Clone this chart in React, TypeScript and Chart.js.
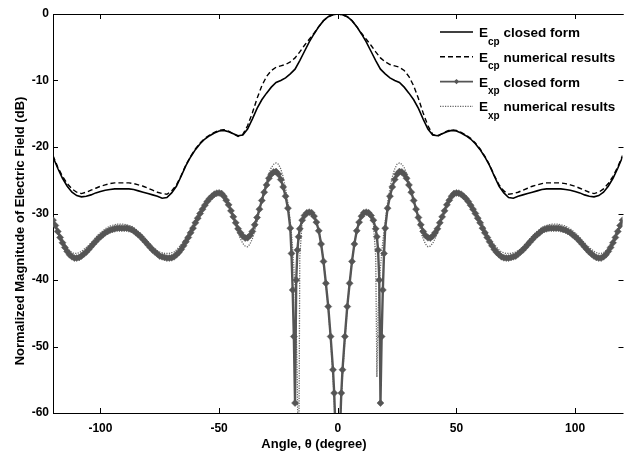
import React, { useEffect, useRef } from "react";
import { Chart, registerables } from "chart.js";

Chart.register(...registerables);

const FONT = '"Liberation Sans", Arial, Helvetica, sans-serif';

const X_TICKS = [-100, -50, 0, 50, 100];
const Y_TICKS = [0, -10, -20, -30, -40, -50, -60];
const X_TITLE = "Angle, θ (degree)";
const Y_TITLE = "Normalized Magnitude of Electric Field (dB)";

const LEGEND_SUBS = ["cp", "cp", "xp", "xp"];
const LEGEND_TEXTS = ["closed form", "numerical results", "closed form", "numerical results"];

// E_cp angles (degrees)
const ECP_ANGLES = [
  -120, -118, -116, -114, -112, -110, -108, -106, -104, -102,
  -100, -98, -96, -94, -92, -90, -88, -86, -84, -82,
  -80, -78, -76, -74, -72, -70, -68, -66, -64, -62,
  -60, -58, -56, -54, -52, -50, -48, -46, -44, -42,
  -40, -38, -36, -34, -32, -30, -28, -26, -24, -22,
  -20, -18, -16, -14, -12, -10, -8, -6, -4, -2,
  0,
  2, 4, 6, 8, 10, 12, 14, 16, 18, 20,
  22, 24, 26, 28, 30, 32, 34, 36, 38, 40,
  42, 44, 46, 48, 50, 52, 54, 56, 58, 60,
  62, 64, 66, 68, 70, 72, 74, 76, 78, 80,
  82, 84, 86, 88, 90, 92, 94, 96, 98, 100,
  102, 104, 106, 108, 110, 112, 114, 116, 118, 120,
];

const ECP_CLOSED = [
  -21.5, -23.2, -24.7, -25.9, -26.8, -27.3, -27.5, -27.4, -27.2, -26.9,
  -26.7, -26.5, -26.4, -26.3, -26.3, -26.3, -26.3, -26.4, -26.6, -26.8,
  -27.0, -27.2, -27.4, -27.7, -27.6, -26.9, -25.9, -24.4, -22.8, -21.5,
  -20.4, -19.5, -18.8, -18.3, -17.9, -17.6, -17.5, -17.7, -18.0, -18.3,
  -18.2, -17.3, -15.8, -14.2, -12.9, -11.9, -11.0, -10.3, -10.0, -9.6,
  -9.0, -8.3, -7.0, -5.6, -4.2, -3.0, -1.9, -1.0, -0.4, -0.1,
  0,
  -0.1, -0.4, -1.0, -1.9, -3.0, -4.2, -5.6, -7.0, -8.3, -9.0,
  -9.6, -10.0, -10.3, -11.0, -11.9, -12.9, -14.2, -15.8, -17.3, -18.2,
  -18.3, -18.0, -17.7, -17.5, -17.6, -17.9, -18.3, -18.8, -19.5, -20.4,
  -21.5, -22.8, -24.4, -25.9, -26.9, -27.6, -27.7, -27.4, -27.2, -27.0,
  -26.8, -26.6, -26.4, -26.3, -26.3, -26.3, -26.3, -26.4, -26.5, -26.7,
  -26.9, -27.2, -27.4, -27.5, -27.3, -26.8, -25.9, -24.7, -23.2, -21.5,
];

const ECP_NUMERICAL = [
  -21.3, -23.0, -24.4, -25.5, -26.3, -26.8, -27.0, -26.8, -26.5, -26.2,
  -25.9, -25.7, -25.5, -25.4, -25.4, -25.4, -25.4, -25.5, -25.7, -25.9,
  -26.2, -26.5, -26.8, -27.0, -27.1, -26.6, -25.7, -24.3, -22.7, -21.4,
  -20.3, -19.4, -18.7, -18.2, -17.8, -17.5, -17.4, -17.6, -18.0, -18.4,
  -18.1, -16.8, -14.9, -12.7, -10.8, -9.4, -8.5, -8.0, -7.8, -7.6,
  -7.2, -6.6, -5.7, -4.7, -3.8, -2.9, -1.9, -1.0, -0.4, -0.1,
  0,
  -0.1, -0.4, -1.0, -1.9, -2.9, -3.8, -4.7, -5.7, -6.6, -7.2,
  -7.6, -7.8, -8.0, -8.5, -9.4, -10.8, -12.7, -14.9, -16.8, -18.1,
  -18.4, -18.0, -17.6, -17.4, -17.5, -17.8, -18.2, -18.7, -19.4, -20.3,
  -21.4, -22.7, -24.3, -25.7, -26.6, -27.1, -27.0, -26.8, -26.5, -26.2,
  -25.9, -25.7, -25.5, -25.4, -25.4, -25.4, -25.4, -25.5, -25.7, -25.9,
  -26.2, -26.5, -26.8, -27.0, -26.8, -26.3, -25.5, -24.4, -23.0, -21.3,
];

// E_xp angles (degrees)
const EXP_ANGLES = [
  -120, -119, -118, -117, -116, -115, -114, -113, -112, -111,
  -110, -109, -108, -107, -106, -105, -104, -103, -102, -101,
  -100, -99, -98, -97, -96, -95, -94, -93, -92, -91,
  -90, -89, -88, -87, -86, -85, -84, -83, -82, -81,
  -80, -79, -78, -77, -76, -75, -74, -73, -72, -71,
  -70, -69, -68, -67, -66, -65, -64, -63, -62, -61,
  -60, -59, -58, -57, -56, -55, -54, -53, -52, -51,
  -50, -49, -48, -47, -46, -45, -44, -43, -42, -41,
  -40, -39, -38, -37, -36, -35, -34, -33, -32, -31,
  -30, -29, -28, -27, -26, -25, -24, -23, -22, -21,
  -20, -19.5, -19, -18.5, -18, -17.5, -17, -16.5, -16,
  -15, -14, -13, -12, -11, -10, -9, -8, -7, -6, -5, -4, -3,
  -2, -1.5, -1, -0.5, 0, 0.5, 1, 1.5, 2,
  3, 4, 5, 6, 7, 8, 9, 10, 11, 12, 13, 14, 15,
  16, 16.5, 17, 17.5, 18, 18.5, 19, 19.5, 20,
  21, 22, 23, 24, 25, 26, 27, 28, 29, 30,
  31, 32, 33, 34, 35, 36, 37, 38, 39, 40,
  41, 42, 43, 44, 45, 46, 47, 48, 49, 50,
  51, 52, 53, 54, 55, 56, 57, 58, 59, 60,
  61, 62, 63, 64, 65, 66, 67, 68, 69, 70,
  71, 72, 73, 74, 75, 76, 77, 78, 79, 80,
  81, 82, 83, 84, 85, 86, 87, 88, 89, 90,
  91, 92, 93, 94, 95, 96, 97, 98, 99, 100,
  101, 102, 103, 104, 105, 106, 107, 108, 109, 110,
  111, 112, 113, 114, 115, 116, 117, 118, 119, 120,
];

const EXP_CLOSED = [
  -31.0, -31.8, -32.7, -33.6, -34.4, -35.1, -35.7, -36.2, -36.5, -36.7,
  -36.7, -36.6, -36.4, -36.1, -35.8, -35.4, -35.0, -34.6, -34.2, -33.8,
  -33.5, -33.2, -32.9, -32.7, -32.5, -32.4, -32.3, -32.2, -32.2, -32.2,
  -32.2, -32.2, -32.3, -32.4, -32.6, -32.9, -33.2, -33.5, -33.9, -34.3,
  -34.7, -35.1, -35.5, -35.8, -36.1, -36.4, -36.5, -36.6, -36.7, -36.7,
  -36.65, -36.5, -36.2, -35.85, -35.4, -34.85, -34.25, -33.6, -32.9, -32.2,
  -31.4, -30.7, -30.0, -29.35, -28.75, -28.2, -27.75, -27.4, -27.1, -26.95,
  -26.9, -27.0, -27.4, -28.0, -28.7, -29.6, -30.5, -31.4, -32.3, -32.9,
  -33.4, -33.7, -33.65, -33.3, -32.7, -31.7, -30.6, -29.35, -28.05, -26.8,
  -25.7, -24.7, -24.1, -23.75, -23.7, -24.1, -24.9, -26.0, -27.4, -29.2,
  -32.2, -36.0, -41.5, -48.5, -58.5, -40.0, -35.5, -33.5, -32.3,
  -31.0, -30.3, -29.9, -29.8, -29.9, -30.4, -31.3, -32.6, -34.6, -37.2, -40.5, -44.0, -48.5,
  -53.5, -57.0, -62.0, -70.0, -90.0, -70.0, -62.0, -57.0, -53.5,
  -48.5, -44.0, -40.5, -37.2, -34.6, -32.6, -31.3, -30.4, -29.9, -29.8, -29.9, -30.3, -31.0,
  -32.3, -33.5, -35.5, -40.0, -58.5, -48.5, -41.5, -36.0, -32.2,
  -29.2, -27.4, -26.0, -24.9, -24.1, -23.7, -23.75, -24.1, -24.7, -25.7,
  -26.8, -28.05, -29.35, -30.6, -31.7, -32.7, -33.3, -33.65, -33.7, -33.4,
  -32.9, -32.3, -31.4, -30.5, -29.6, -28.7, -28.0, -27.4, -27.0, -26.9,
  -26.95, -27.1, -27.4, -27.75, -28.2, -28.75, -29.35, -30.0, -30.7, -31.4,
  -32.2, -32.9, -33.6, -34.25, -34.85, -35.4, -35.85, -36.2, -36.5, -36.65,
  -36.7, -36.7, -36.6, -36.5, -36.4, -36.1, -35.8, -35.5, -35.1, -34.7,
  -34.3, -33.9, -33.5, -33.2, -32.9, -32.6, -32.4, -32.3, -32.2, -32.2,
  -32.2, -32.2, -32.2, -32.3, -32.4, -32.5, -32.7, -32.9, -33.2, -33.5,
  -33.8, -34.2, -34.6, -35.0, -35.4, -35.8, -36.1, -36.4, -36.6, -36.7,
  -36.7, -36.5, -36.2, -35.7, -35.1, -34.4, -33.6, -32.7, -31.8, -31.0,
];

const EXP_NUMERICAL = [
  -30.8, -31.5, -32.3, -33.1, -33.9, -34.6, -35.2, -35.6, -35.9, -36.0,
  -36.0, -35.9, -35.7, -35.4, -35.1, -34.8, -34.4, -34.0, -33.6, -33.2,
  -32.9, -32.6, -32.3, -32.1, -31.9, -31.8, -31.7, -31.6, -31.6, -31.6,
  -31.6, -31.7, -31.8, -31.9, -32.1, -32.4, -32.7, -33.0, -33.4, -33.8,
  -34.2, -34.6, -35.0, -35.3, -35.6, -35.8, -35.9, -36.0, -36.0, -36.0,
  -35.9, -35.8, -35.5, -35.1, -34.7, -34.2, -33.6, -33.0, -32.3, -31.6,
  -30.9, -30.2, -29.6, -29.0, -28.4, -27.9, -27.5, -27.1, -26.9, -26.8,
  -26.8, -27.0, -27.4, -28.0, -28.8, -29.8, -30.8, -31.9, -32.9, -33.8,
  -34.5, -34.9, -35.0, -34.6, -33.8, -32.6, -31.2, -29.6, -28.0, -26.5,
  -25.1, -24.0, -23.1, -22.6, -22.4, -22.6, -23.3, -24.5, -26.2, -28.4,
  -31.2, -33.0, -35.2, -38.0, -41.5, -47.0, -56.0, -75.0, -36.5,
  -31.3, -30.3, -29.8, -29.6, -29.7, -30.2, -31.1, -32.5, -34.5, -37.2, -40.6, -44.3, -49.0,
  -54.5, -58.0, -63.0, -72.0, -90.0, -72.0, -63.0, -58.0, -54.5,
  -49.0, -44.3, -40.6, -37.2, -34.5, -32.5, -31.1, -30.2, -29.7, -29.6, -29.8, -30.3, -31.3,
  -36.5, -54.6, -45.0, -40.5, -38.0, -36.0, -34.2, -32.7, -31.2,
  -28.4, -26.2, -24.5, -23.3, -22.6, -22.4, -22.6, -23.1, -24.0, -25.1,
  -26.5, -28.0, -29.6, -31.2, -32.6, -33.8, -34.6, -35.0, -34.9, -34.5,
  -33.8, -32.9, -31.9, -30.8, -29.8, -28.8, -28.0, -27.4, -27.0, -26.8,
  -26.8, -26.9, -27.1, -27.5, -27.9, -28.4, -29.0, -29.6, -30.2, -30.9,
  -31.6, -32.3, -33.0, -33.6, -34.2, -34.7, -35.1, -35.5, -35.8, -35.9,
  -36.0, -36.0, -36.0, -35.9, -35.8, -35.6, -35.3, -35.0, -34.6, -34.2,
  -33.8, -33.4, -33.0, -32.7, -32.4, -32.1, -31.9, -31.8, -31.7, -31.6,
  -31.6, -31.6, -31.6, -31.7, -31.8, -31.9, -32.1, -32.3, -32.6, -32.9,
  -33.2, -33.6, -34.0, -34.4, -34.8, -35.1, -35.4, -35.7, -35.9, -36.0,
  -36.0, -35.9, -35.6, -35.2, -34.6, -33.9, -33.1, -32.3, -31.5, -30.8,
];

const GRAY = "#555555";

const zip = (xs: number[], ys: number[]) => xs.map((x, i) => ({ x, y: ys[i] }));

const framePlugin = {
  id: "frameAndLegend",
  afterDraw(chart: any) {
    const { ctx, chartArea } = chart;
    const { left, right, top, bottom } = chartArea;
    const xs = chart.scales.x;
    const ys = chart.scales.y;
    ctx.save();
    ctx.strokeStyle = "#000";
    ctx.lineWidth = 1;
    ctx.beginPath();
    ctx.moveTo(left, top + 0.5);
    ctx.lineTo(right + 1, top + 0.5);
    const tl = 5;
    X_TICKS.forEach((v) => {
      const px = Math.round(xs.getPixelForValue(v)) + 0.5;
      ctx.moveTo(px, bottom);
      ctx.lineTo(px, bottom - tl);
      ctx.moveTo(px, top);
      ctx.lineTo(px, top + tl);
    });
    Y_TICKS.forEach((v) => {
      const py = Math.round(ys.getPixelForValue(v)) + 0.5;
      ctx.moveTo(left, py);
      ctx.lineTo(left + tl, py);
      ctx.moveTo(right + 1, py);
      ctx.lineTo(right + 1 - tl, py);
    });
    ctx.stroke();

    // axis titles
    ctx.fillStyle = "#000";
    ctx.font = `bold 13px ${FONT}`;
    ctx.textAlign = "center";
    ctx.textBaseline = "middle";
    ctx.fillText(X_TITLE, 314, 444);
    ctx.save();
    ctx.translate(20, 231);
    ctx.rotate(-Math.PI / 2);
    ctx.fillText(Y_TITLE, 0, 0);
    ctx.restore();

    // legend
    const x0 = 440;
    const x1 = 473;
    const y0 = 32;
    const dy = 24.8;
    const dsets = chart.data.datasets;
    for (let i = 0; i < 4; i++) {
      const ds = dsets[i];
      const y = y0 + i * dy;
      ctx.save();
      ctx.strokeStyle = ds.borderColor;
      ctx.lineWidth = Math.min(ds.borderWidth, 1.6);
      ctx.setLineDash(ds.borderDash || []);
      ctx.beginPath();
      ctx.moveTo(x0, y);
      ctx.lineTo(x1, y);
      ctx.stroke();
      ctx.setLineDash([]);
      if (ds.pointRadius > 0) {
        const cx = (x0 + x1) / 2;
        const r = 2.6;
        ctx.fillStyle = ds.pointBackgroundColor;
        ctx.beginPath();
        ctx.moveTo(cx, y - r);
        ctx.lineTo(cx + r, y);
        ctx.lineTo(cx, y + r);
        ctx.lineTo(cx - r, y);
        ctx.closePath();
        ctx.fill();
      }
      ctx.restore();
      ctx.fillStyle = "#000";
      ctx.textBaseline = "alphabetic";
      ctx.textAlign = "left";
      ctx.font = `bold 13.5px ${FONT}`;
      let tx = 479;
      ctx.fillText("E", tx, y + 5);
      tx += ctx.measureText("E").width;
      ctx.font = `bold 10px ${FONT}`;
      ctx.fillText(LEGEND_SUBS[i], tx, y + 12.5);
      tx += ctx.measureText(LEGEND_SUBS[i]).width;
      ctx.font = `bold 13.5px ${FONT}`;
      ctx.fillText(" " + LEGEND_TEXTS[i], tx, y + 5);
    }
    ctx.restore();
  },
};

export default function App() {
  const ref = useRef<HTMLCanvasElement | null>(null);
  useEffect(() => {
    if (!ref.current) return;
    const tickFont = { family: FONT, size: 12, weight: "bold" as const };
    const chart = new Chart(ref.current, {
      type: "line",
      data: {
        datasets: [
          {
            label: "Ecp closed form",
            data: zip(ECP_ANGLES, ECP_CLOSED),
            borderColor: "#000",
            borderWidth: 1.6,
            pointRadius: 0,
            tension: 0,
            order: 3,
          },
          {
            label: "Ecp numerical results",
            data: zip(ECP_ANGLES, ECP_NUMERICAL),
            borderColor: "#000",
            borderWidth: 1.4,
            borderDash: [5, 3],
            pointRadius: 0,
            tension: 0,
            order: 4,
          },
          {
            label: "Exp closed form",
            data: zip(EXP_ANGLES, EXP_CLOSED),
            borderColor: GRAY,
            borderWidth: 2.4,
            pointRadius: 3.5,
            pointStyle: "rectRot",
            pointBackgroundColor: GRAY,
            pointBorderColor: GRAY,
            pointBorderWidth: 0.5,
            tension: 0,
            order: 1,
          },
          {
            label: "Exp numerical results",
            data: zip(EXP_ANGLES, EXP_NUMERICAL),
            borderColor: "#666666",
            borderWidth: 1.3,
            borderDash: [1.2, 1.3],
            pointRadius: 0,
            tension: 0,
            order: 2,
          },
        ],
      },
      options: {
        responsive: false,
        animation: false,
        devicePixelRatio: 1,
        layout: { padding: { top: 14, right: 1, left: 0, bottom: 0 } },
        plugins: { legend: { display: false }, tooltip: { enabled: false } },
        scales: {
          x: {
            type: "linear",
            min: -120,
            max: 120,
            afterBuildTicks: (s: any) => {
              s.ticks = X_TICKS.map((v) => ({ value: v }));
            },
            afterFit: (s: any) => {
              s.height = 41;
            },
            grid: { display: false, drawTicks: false },
            border: { display: true, color: "#000", width: 1 },
            ticks: {
              font: tickFont,
              color: "#000",
              padding: 8,
              maxRotation: 0,
              autoSkip: false,
            },
            title: { display: false },
          },
          y: {
            type: "linear",
            min: -60,
            max: 0,
            afterBuildTicks: (s: any) => {
              s.ticks = Y_TICKS.map((v) => ({ value: v }));
            },
            afterFit: (s: any) => {
              s.width = 53;
            },
            grid: { display: false, drawTicks: false },
            border: { display: true, color: "#000", width: 1 },
            ticks: { font: tickFont, color: "#000", padding: 4, autoSkip: false },
            title: { display: false },
          },
        },
      },
      plugins: [framePlugin],
    });
    return () => chart.destroy();
  }, []);
  return (
    <div style={{ position: "fixed", left: 0, top: 0, width: 627, height: 454, background: "#fff" }}>
      <canvas ref={ref} width={627} height={454} style={{ display: "block" }} />
    </div>
  );
}
